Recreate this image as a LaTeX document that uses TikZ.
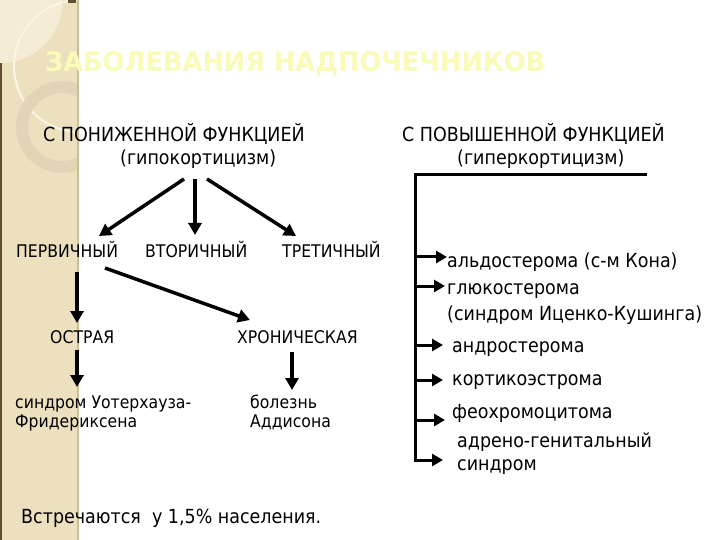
\documentclass[tikz,border=0pt]{standalone}
\usepackage{fontspec}
\setmainfont{DejaVu Sans}[FakeStretch=0.9]
\usetikzlibrary{arrows.meta,calc}
\definecolor{stripc}{RGB}{237,224,190}
\definecolor{lightc}{RGB}{244,236,213}
\definecolor{arcc}{RGB}{250,246,228}
\definecolor{ringc}{RGB}{224,213,183}
\definecolor{borderc}{RGB}{205,190,150}
\definecolor{edgec}{RGB}{95,80,52}
\definecolor{titc}{RGB}{250,250,185}
\tikzset{
  hd/.style={anchor=base west, inner sep=0pt, font=\fontsize{19.5}{22}\selectfont},
  sm/.style={anchor=base west, inner sep=0pt, font=\fontsize{17.5}{20}\selectfont},
  arr/.style={line width=3.5bp, -{Triangle[length=12bp,width=13bp]}},
  rarr/.style={line width=3bp, -{Triangle[length=11bp,width=12bp]}},
}
\newcommand{\titletext}{\resizebox{500bp}{20bp}{\bfseries ЗАБОЛЕВАНИЯ НАДПОЧЕЧНИКОВ}}
\begin{document}
\begin{tikzpicture}[x=1bp,y=-1bp]
\useasboundingbox (0,0) rectangle (720,540);
\fill[white] (0,0) rectangle (720,540);
% decorative strip
\begin{scope}
  \clip (0,0) rectangle (78,540);
  \fill[stripc] (0,0) rectangle (78,540);
  \fill[lightc] (0,0) circle[radius=63bp];
  \draw[arcc, line width=2bp] (80,66) circle[radius=66bp];
  \fill[ringc, even odd rule] (62,127) circle[radius=46bp] (62,127) circle[radius=34bp];
\end{scope}
\draw[borderc, line width=1.5bp] (78,0) -- (78,540);
\draw[edgec, line width=1.5bp] (0.75,63) -- (0.75,540);
\fill[edgec] (68,0) rectangle (76,3);
% title
\node (title) [anchor=base west, inner sep=0pt, text=titc] at (45,72) {\titletext};
% left branch
\node (lowfn) [hd] at (43,142) {С ПОНИЖЕННОЙ ФУНКЦИЕЙ};
\node (hypo) [hd] at (120,165) {(гипокортицизм)};
\node (perv) [sm] at (16,258) {ПЕРВИЧНЫЙ};
\node (vtor) [sm] at (145,258) {ВТОРИЧНЫЙ};
\node (tret) [sm] at (282,258) {ТРЕТИЧНЫЙ};
\node (ostr) [sm] at (50,343) {ОСТРАЯ};
\node (chron) [sm] at (237,343) {ХРОНИЧЕСКАЯ};
\node (wf) [sm] at (15,408) {\begin{tabular}[t]{@{}l@{}}синдром Уотерхауза-\\Фридериксена\end{tabular}};
\node (add) [sm] at (250,408) {\begin{tabular}[t]{@{}l@{}}болезнь\\Аддисона\end{tabular}};
\node (note) [hd] at (21,523) {Встречаются\ \ у 1,5\% населения.};
\draw[arr] ($(hypo.base west)+(64,14)$) -- ($(perv.base west)+(83,-22)$);
\draw[arr] ($(hypo.base west)+(75,14)$) -- ($(vtor.base west)+(50,-23)$);
\draw[arr] ($(hypo.base west)+(87,14)$) -- ($(tret.base west)+(14,-22)$);
\draw[arr] ($(perv.base west)+(61,14)$) -- ($(ostr.base west)+(27,-20)$);
\draw[arr] ($(perv.base west)+(89,10)$) -- ($(chron.base west)+(13,-23)$);
\draw[arr] ($(ostr.base west)+(27,7)$) -- ($(wf.base west)+(62,-21)$);
\draw[arr] ($(chron.base west)+(55,9)$) -- ($(add.base west)+(42,-18)$);
% right branch
\node (highfn) [hd] at (402,142) {С ПОВЫШЕННОЙ ФУНКЦИЕЙ};
\node (hyper) [hd] at (457,165) {(гиперкортицизм)};
\node (r1) [hd] at (447,268) {альдостерома (с-м Кона)};
\node (r2) [hd] at (447,294) {\begin{tabular}[t]{@{}l@{}}глюкостерома\\[5bp](синдром Иценко-Кушинга)\end{tabular}};
\node (r3) [hd] at (452,352) {андростерома};
\node (r4) [hd] at (452,385) {кортикоэстрома};
\node (r5) [hd] at (452,418) {феохромоцитома};
\node (r6) [hd] at (457,447) {\begin{tabular}[t]{@{}l@{}}адрено-генитальный\\[2bp]синдром\end{tabular}};
\coordinate (tt) at (415,175);
\coordinate (te) at (647,175);
\coordinate (tb) at (415,461.5);
\draw[line width=3bp] (te) -- (tt) -- (tb);
\path ($(r1.base west)+(0,-11)$) coordinate (t1);
\path ($(r2.base west)+(-2,-8)$) coordinate (t2);
\path ($(r3.base west)+(-9,-7)$) coordinate (t3);
\path ($(r4.base west)+(-9,-5)$) coordinate (t4);
\path ($(r5.base west)+(-7,2)$) coordinate (t5);
\path ($(r6.base west)+(-14,13)$) coordinate (t6);
\foreach \t in {t1,t2,t3,t4,t5,t6}{
  \draw[rarr] (tt |- \t) -- (\t);
}
\end{tikzpicture}
\end{document}
